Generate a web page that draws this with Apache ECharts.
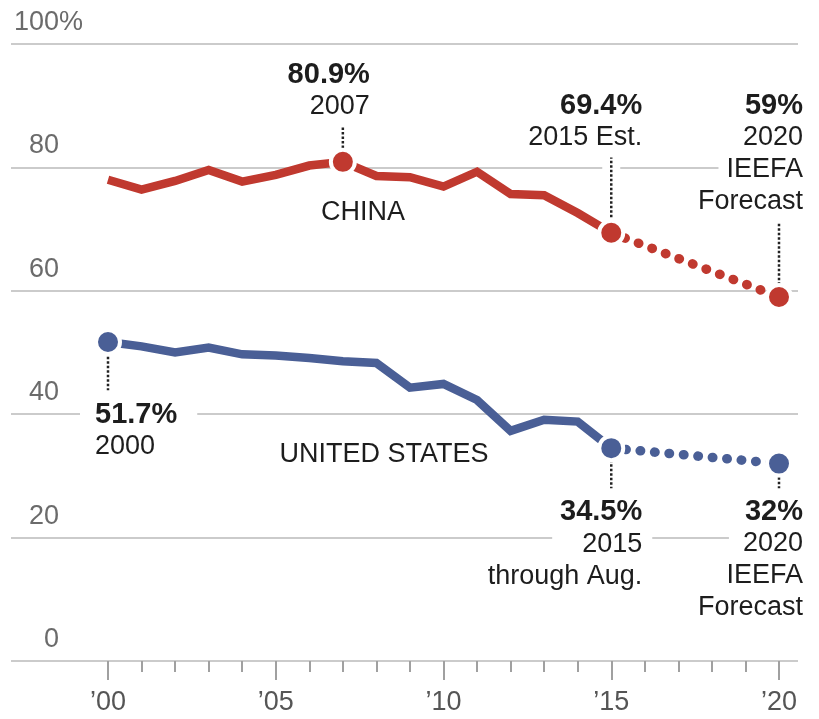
<!DOCTYPE html>
<html><head><meta charset="utf-8">
<script src="https://cdn.jsdelivr.net/npm/echarts@6/dist/echarts.min.js"></script>
<style>html,body{margin:0;padding:0;background:#fff}#c{width:819px;height:719px}</style>
</head><body><div id="c"></div>
<script>
// ---- data ----
const years = [2000,2001,2002,2003,2004,2005,2006,2007,2008,2009,2010,2011,2012,2013,2014,2015];
const chinaValues = [78.0,76.4,77.8,79.6,77.7,78.8,80.3,80.9,78.6,78.4,76.9,79.3,75.7,75.5,72.6,69.4];
const usValues = [51.7,51.0,50.0,50.8,49.7,49.5,49.1,48.6,48.3,44.3,44.9,42.3,37.3,39.1,38.8,34.5];
const forecastYears = [2015, 2020];
const chinaForecast = [69.4, 59];
const usForecast = [34.5, 32];
const xTickYears = [2000, 2005, 2010, 2015, 2020];
const xTickLabels = ["\u201900", "\u201905", "\u201910", "\u201915", "\u201920"];
const chinaHighlightYears = [2007, 2015, 2020];
const chinaHighlightValues = [80.9, 69.4, 59];
const usHighlightYears = [2000, 2015, 2020];
const usHighlightValues = [51.7, 34.5, 32];
const chinaNotes = [["80.9%", "2007"], ["69.4%", "2015 Est."], ["59%", "2020", "IEEFA", "Forecast"]];
const usNotes = [["51.7%", "2000"], ["34.5%", "2015", "through Aug."], ["32%", "2020", "IEEFA", "Forecast"]];
const seriesNames = ["CHINA", "UNITED STATES"];
const seriesNameYears = [2007.6, 2008.23];
const seriesNameValues = [72.65, 33.4];

// ---- styles ----
const FONT = "'Liberation Sans', Arial, Helvetica, sans-serif";
const RED = '#c0392f';
const BLUE = '#4a5f96';
const TEXT = '#1d1d1d';

// annotation layout (styling, not data)
const chinaNoteCfg = [
  {align:'right', va:'bottom', offset:[27,-39], padL:0, padR:0, bg:{}},
  {align:'right', va:'bottom', offset:[31,-79], padL:0, padR:0, bg:{}},
  {align:'right', va:'bottom', offset:[32,-79], padL:0, padR:8, bg:{2:8}}
];
const usNoteCfg = [
  {align:'left', va:'top', offset:[-28,57], padL:15, padR:0, bg:{0:20}},
  {align:'right', va:'top', offset:[41,48], padL:0, padR:10, bg:{1:30}},
  {align:'right', va:'top', offset:[32,32], padL:0, padR:8, bg:{1:14}}
];
// leader line extents, relative to the point value
const chinaLeaders = [[1.5,5.7],[1.8,12.2],[2.0,12.0]];
const usLeaders = [[-2.4,-7.8],[-1.9,-6.5],[-2.2,-4.0]];

function makeLabel(lines, cfg) {
  const rich = {};
  const parts = lines.map((t, i) => {
    const key = 't' + i;
    let padL = cfg.padL, padR = cfg.padR;
    const st = {fontSize: i === 0 ? 29 : 27, lineHeight:32, fontFamily:FONT,
                fontWeight: i === 0 ? 'bold' : 'normal', color:TEXT, align:cfg.align};
    if (cfg.bg[i] != null) {
      st.backgroundColor = '#fff';
      if (cfg.align === 'left') padR = cfg.bg[i]; else padL = cfg.bg[i];
    }
    st.padding = [0, padR, 0, padL];
    rich[key] = st;
    return '{' + key + '|' + t + '}';
  });
  return {show:true, position:'inside', formatter: parts.join('\n'), rich: rich,
          align: cfg.align, verticalAlign: cfg.va, offset: cfg.offset,
          color: TEXT, textBorderWidth: 0};
}

function highlightSeries(xs, ys, notes, cfgs, color) {
  return {
    type:'scatter', xAxisIndex:1, yAxisIndex:1, z:5, symbol:'circle', symbolSize:24,
    itemStyle:{color:color, borderColor:'#fff', borderWidth:4, opacity:1},
    data: xs.map((x, i) => ({value:[x, ys[i]], label: makeLabel(notes[i], cfgs[i])})),
    silent:true
  };
}

function leaderSeries(xs, ys, ext) {
  const out = [];
  xs.forEach((x, i) => {
    const d = [[x, ys[i] + ext[i][0]], [x, ys[i] + ext[i][1]]];
    out.push({type:'line', xAxisIndex:1, yAxisIndex:1, z:1, symbol:'none', data:d,
              lineStyle:{color:'#fff', width:18, cap:'butt'}, silent:true});
    out.push({type:'line', xAxisIndex:1, yAxisIndex:1, z:3, symbol:'none', data:d,
              lineStyle:{color:'#222', width:2.5, type:[2.5,2]}, silent:true});
  });
  return out;
}

const chart = echarts.init(document.getElementById('c'), null, {renderer:'canvas'});
const option = {
  animation:false,
  backgroundColor:'#fff',
  grid:[
    {left:11, right:21, top:44, bottom:58},
    {left:108, right:40, top:44, bottom:58}
  ],
  xAxis:[
    {gridIndex:0, type:'value', min:0, max:1, show:false},
    {gridIndex:1, type:'value', position:'bottom', min:2000, max:2020, interval:1,
     axisLine:{show:false}, axisTick:{show:true, length:11, lineStyle:{color:'#a0a0a0', width:2}},
     axisLabel:{show:false}, splitLine:{show:false}},
    {gridIndex:1, type:'value', position:'bottom', min:2000, max:2020, interval:5,
     axisLine:{show:false}, axisTick:{show:true, length:19, lineStyle:{color:'#a0a0a0', width:2}},
     axisLabel:{show:true, fontSize:27, fontFamily:FONT, color:'#555', margin:28,
       formatter: v => { const k = xTickYears.indexOf(v); return k >= 0 ? xTickLabels[k] : ''; }},
     splitLine:{show:false}}
  ],
  yAxis:[
    {gridIndex:0, type:'value', min:0, max:100, interval:20,
     axisLine:{show:false}, axisTick:{show:false},
     splitLine:{show:true, lineStyle:{color:'#cbcbcb', width:2}},
     axisLabel:{show:true, inside:true, align:'right', verticalAlign:'bottom', margin:48,
       padding:[0,0,8,0], fontSize:27, fontFamily:FONT, color:'#6b6b6b',
       showMinLabel:true, showMaxLabel:true,
       formatter: v => v === 100 ? '{n|100}{p|%}' : String(v),
       rich:{
         n:{fontSize:27, fontFamily:FONT, color:'#6b6b6b', align:'left'},
         p:{fontSize:27, fontFamily:FONT, color:'#6b6b6b', align:'left', width:0}
       }}},
    {gridIndex:1, type:'value', min:0, max:100, show:false}
  ],
  series:[
    {type:'line', name:'China', xAxisIndex:1, yAxisIndex:1, z:2, symbol:'none',
     data: years.map((y, i) => [y, chinaValues[i]]),
     lineStyle:{color:RED, width:8.5, join:'miter', cap:'butt'}, silent:true},
    {type:'line', name:'China forecast', xAxisIndex:1, yAxisIndex:1, z:2, symbol:'none',
     data: forecastYears.map((y, i) => [y, chinaForecast[i]]),
     lineStyle:{color:RED, width:9.5, type:[0.5,14], cap:'round'}, silent:true},
    {type:'line', name:'United States', xAxisIndex:1, yAxisIndex:1, z:2, symbol:'none',
     data: years.map((y, i) => [y, usValues[i]]),
     lineStyle:{color:BLUE, width:8.5, join:'miter', cap:'butt'}, silent:true},
    {type:'line', name:'US forecast', xAxisIndex:1, yAxisIndex:1, z:2, symbol:'none',
     data: forecastYears.map((y, i) => [y, usForecast[i]]),
     lineStyle:{color:BLUE, width:9.5, type:[0.5,14], cap:'round'}, silent:true},
    ...leaderSeries(chinaHighlightYears, chinaHighlightValues, chinaLeaders),
    ...leaderSeries(usHighlightYears, usHighlightValues, usLeaders),
    highlightSeries(chinaHighlightYears, chinaHighlightValues, chinaNotes, chinaNoteCfg, RED),
    highlightSeries(usHighlightYears, usHighlightValues, usNotes, usNoteCfg, BLUE),
    {type:'scatter', xAxisIndex:1, yAxisIndex:1, z:4, symbol:'circle', symbolSize:0,
     itemStyle:{color:'#222'},
     data: seriesNames.map((n, i) => ({value:[seriesNameYears[i], seriesNameValues[i]], name:n})),
     label:{show:true, position:'inside', formatter: p => p.name, fontSize:27, fontFamily:FONT,
            color:'#1d1d1d', opacity:1, textBorderWidth:0, align:'center', verticalAlign:'middle'},
     silent:true}
  ]
};
chart.setOption(option);
</script>
</body></html>
